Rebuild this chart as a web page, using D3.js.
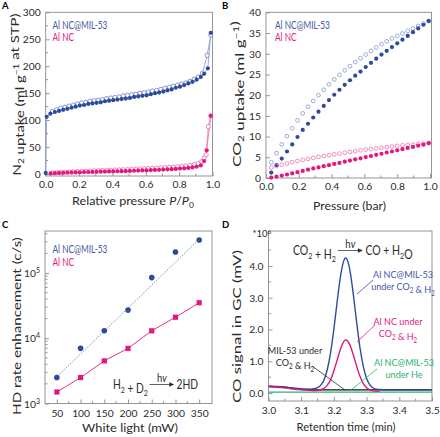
<!DOCTYPE html>
<html><head><meta charset="utf-8">
<script src="https://cdn.jsdelivr.net/npm/d3@7"></script>
<style>
html,body{margin:0;padding:0;background:#fff;}
svg{display:block;font-family:Lato,"Open Sans",sans-serif;}
</style></head>
<body>
<svg id="c" width="440" height="437"></svg>
<script>
// ---------- DATA ----------
// Panel A: N2 isotherms [P/P0, uptake]
const aMilAds = [[0,2],[0.006,106],[0.028,112],[0.055,115],[0.08,117],[0.105,119],[0.13,121],[0.155,123],[0.18,125],[0.205,127],[0.23,128],[0.255,130],[0.28,131],[0.305,132],[0.33,133],[0.355,135],[0.38,136],[0.405,137],[0.43,138],[0.455,139],[0.48,140],[0.505,141],[0.53,143],[0.555,144],[0.58,145],[0.605,146],[0.63,148],[0.655,150],[0.68,151],[0.705,153],[0.73,155],[0.755,157],[0.78,160],[0.805,162],[0.83,165],[0.855,168],[0.88,171],[0.905,175],[0.93,180],[0.95,186],[0.972,196],[0.99,262]];
const aMilDes = [[0.04,116],[0.065,119],[0.09,122],[0.115,124],[0.14,126],[0.165,128],[0.19,130],[0.215,132],[0.24,133],[0.265,135],[0.29,136],[0.315,137],[0.34,138],[0.365,140],[0.39,141],[0.415,142],[0.44,143],[0.465,145],[0.49,146],[0.515,147],[0.54,148],[0.565,150],[0.59,151],[0.615,152],[0.64,154],[0.665,155],[0.69,157],[0.715,159],[0.74,161],[0.765,163],[0.79,165],[0.815,167],[0.84,169],[0.865,172],[0.89,176],[0.915,180],[0.94,187],[0.968,220],[0.99,258]];
const aNcAds = [[0.03,1],[0.055,1.5],[0.08,2],[0.105,2.3],[0.13,2.6],[0.155,2.9],[0.18,3.1],[0.205,3.3],[0.23,3.5],[0.255,3.7],[0.28,3.9],[0.305,4.1],[0.33,4.3],[0.355,4.5],[0.38,4.7],[0.405,4.9],[0.43,5.1],[0.455,5.3],[0.48,5.5],[0.505,5.8],[0.53,6],[0.555,6.3],[0.58,6.6],[0.605,6.9],[0.63,7.2],[0.655,7.5],[0.68,7.8],[0.705,8.2],[0.73,8.6],[0.755,9],[0.78,9.5],[0.805,10],[0.83,10.6],[0.855,11.3],[0.88,12.2],[0.905,13.5],[0.93,16],[0.95,24],[0.965,44],[0.99,108]];
const aNcDes = [[0.04,2],[0.065,2.6],[0.09,3],[0.115,3.4],[0.14,3.8],[0.165,4.2],[0.19,4.6],[0.215,5],[0.24,5.3],[0.265,5.6],[0.29,5.9],[0.315,6.2],[0.34,6.5],[0.365,6.8],[0.39,7.1],[0.415,7.4],[0.44,7.7],[0.465,8],[0.49,8.3],[0.515,8.7],[0.54,9],[0.565,9.4],[0.59,9.8],[0.615,10.2],[0.64,10.6],[0.665,11],[0.69,11.5],[0.715,12],[0.74,12.5],[0.765,13],[0.79,13.6],[0.815,14.3],[0.84,15],[0.865,16],[0.89,17.5],[0.915,19.5],[0.935,23],[0.95,30],[0.962,36],[0.975,88],[0.99,108]];

// Panel B: CO2 isotherms (pressure, uptake)
const bPressure = [0.032,0.064,0.096,0.128,0.16,0.192,0.224,0.256,0.288,0.32,0.352,0.384,0.416,0.448,0.48,0.512,0.544,0.576,0.608,0.64,0.672,0.704,0.736,0.768,0.8,0.832,0.864,0.896,0.928,0.96,0.992];
const bMilAds = [1.3,3.1,4.7,6.4,8.1,9.9,11.6,13.1,14.6,16.0,17.4,18.8,20.1,21.3,22.5,23.6,24.7,25.7,26.8,27.8,28.8,29.8,30.7,31.6,32.5,33.4,34.3,35.2,36.1,37.0,37.9];
const bMilDes = [3.8,6.0,8.1,10.1,12.0,13.9,15.6,17.2,18.6,20.0,21.3,22.6,23.8,24.9,26.0,27.0,28.0,28.9,29.8,30.7,31.5,32.3,33.0,33.7,34.3,34.9,35.5,36.1,36.7,37.3,37.9];
const bNcAds = [0.1,0.35,0.6,0.85,1.1,1.4,1.7,2.0,2.3,2.55,2.85,3.1,3.4,3.65,3.95,4.2,4.5,4.75,5.05,5.3,5.6,5.85,6.15,6.4,6.7,6.95,7.25,7.5,7.8,8.05,8.4];
const bNcDes = [2.5,2.9,3.2,3.5,3.8,4.1,4.35,4.6,4.85,5.1,5.3,5.5,5.7,5.9,6.1,6.3,6.5,6.7,6.85,7.0,7.15,7.3,7.45,7.6,7.75,7.9,8.0,8.1,8.25,8.35,8.45];

// Panel C: HD rate enhancement vs light power
const cPower = [50,100,150,200,250,300,350];
const cMil = [2500,7000,13000,27000,85000,210000,320000];
const cNc = [1500,2500,4500,7000,13000,21000,35000];
const cMilFit = [[50,2550],[350,330000]];

// Panel D: GC traces [time, signal*1e6]
const dMil = [[3.00,0.22],[3.02,0.21],[3.04,0.2],[3.06,0.18],[3.08,0.15],[3.10,0.13],[3.12,0.12],[3.14,0.14],[3.15,0.17],[3.16,0.25],[3.17,0.42],[3.18,0.75],[3.19,1.28],[3.20,2.02],[3.21,2.88],[3.22,3.66],[3.23,4.16],[3.236,4.25],[3.24,4.21],[3.25,3.80],[3.26,3.05],[3.27,2.19],[3.28,1.41],[3.29,0.83],[3.30,0.46],[3.31,0.26],[3.32,0.16],[3.33,0.12],[3.34,0.11],[3.36,0.1],[3.40,0.1],[3.45,0.1],[3.50,0.1]];
const dNc = [[3.00,0.2],[3.02,0.19],[3.04,0.17],[3.06,0.15],[3.08,0.12],[3.10,0.1],[3.12,0.09],[3.14,0.08],[3.15,0.08],[3.16,0.11],[3.17,0.15],[3.18,0.25],[3.19,0.42],[3.20,0.70],[3.21,1.04],[3.22,1.38],[3.23,1.62],[3.237,1.67],[3.24,1.66],[3.25,1.49],[3.26,1.18],[3.27,0.83],[3.28,0.52],[3.29,0.30],[3.30,0.17],[3.31,0.10],[3.32,0.07],[3.33,0.06],[3.34,0.06]];
const dMil53 = [[3.00,0.21],[3.02,0.2],[3.04,0.19],[3.06,0.17],[3.08,0.14],[3.10,0.12],[3.12,0.11],[3.15,0.1],[3.20,0.1],[3.30,0.1],[3.40,0.1],[3.50,0.1]];
const dHe = [[3.00,0.03],[3.10,0.03],[3.20,0.03],[3.30,0.03],[3.40,0.03],[3.50,0.03]];

// ---------- STYLE ----------
const BLUE = "#2d4a9c", BLUE_L = "#8797cc", PINK = "#e2187e", PINK_L = "#ec6aa8";
const GREEN = "#27b36f", AX = "#8a8a8a", TXT = "#2a2a2a";
const BLUE_T = "#4358a6", PINK_T = "#e3197f";
const TITLE = 12;

const svg = d3.select("#c");

function rich(sel, parts, size) {
  parts.forEach(p => {
    const [t, k] = p;
    const ts = sel.append("tspan").text(t);
    if (k === "sub") ts.attr("font-size", size * 0.68).attr("dy", size * 0.28);
    else if (k === "sup") ts.attr("font-size", size * 0.68).attr("dy", -size * 0.4);
    else if (k === "i") ts.attr("font-style", "italic");
    if (k === "sub") sel.append("tspan").attr("dy", -size * 0.28).text("");
    if (k === "sup") sel.append("tspan").attr("dy", size * 0.4).text("");
  });
  return sel;
}

// text stretched/condensed along its length to match the reference extent
function label(x, y, rot, anchor, parts, size, target, color, sxFixed) {
  const t = svg.append("text").attr("font-size", size).attr("fill", color || TXT).attr("text-anchor", anchor);
  rich(t, parts, size);
  let sx = sxFixed || 1;
  if (target) { const w = t.node().getComputedTextLength(); if (w > 0) sx = target / w; }
  t.attr("transform", `translate(${x},${y})` + (rot ? ` rotate(${rot})` : "") + ` scale(${sx},1)`);
  t.sx = sx;
  return t;
}

function frame(x0, y0, x1, y1) {
  svg.append("rect").attr("x", x0).attr("y", y0).attr("width", x1 - x0).attr("height", y1 - y0)
    .attr("fill", "none").attr("stroke", AX).attr("stroke-width", 0.9);
}

function styleAxis(g) {
  g.select(".domain").remove();
  g.selectAll(".tick line").attr("stroke", AX).attr("stroke-width", 0.9);
  g.selectAll(".tick text").attr("fill", TXT).attr("font-size", 10.3).attr("font-family", "Lato,'Open Sans',sans-serif");
}

function minorTicks(scale, vals, len, horiz, pos) {
  const g = svg.append("g");
  vals.forEach(v => {
    if (horiz) g.append("line").attr("x1", scale(v)).attr("x2", scale(v)).attr("y1", pos).attr("y2", pos - len).attr("stroke", AX).attr("stroke-width", 0.9);
    else g.append("line").attr("y1", scale(v)).attr("y2", scale(v)).attr("x1", pos).attr("x2", pos + len).attr("stroke", AX).attr("stroke-width", 0.9);
  });
}

function panelLetter(t, x, y) {
  svg.append("text").attr("x", x).attr("y", y).attr("font-size", 9.5).attr("font-weight", "bold").attr("fill", "#000").text(t);
}

function legend(x, y) {
  const t = label(x, y, 0, "start", [["Al NC@MIL-53"]], 10.5, 55, BLUE_T);
  label(x, y + 12.5, 0, "start", [["Al NC"]], 10.5, null, PINK_T, t.sx);
}

// reaction: left parts, arrow with hv, right parts (drawn in a condensed group)
function reaction(x0, yb, size, sx, left, right, arrowLen) {
  const g = svg.append("g").attr("transform", `translate(${x0},${yb}) scale(${sx},1)`);
  const t1 = g.append("text").attr("x", 0).attr("y", 0).attr("font-size", size).attr("fill", TXT);
  rich(t1, left, size);
  const w1 = t1.node().getComputedTextLength();
  const ax0 = w1 + 2, ax1 = ax0 + arrowLen, ay = -size * 0.36;
  g.append("line").attr("x1", ax0).attr("x2", ax1 - 3).attr("y1", ay).attr("y2", ay).attr("stroke", TXT).attr("stroke-width", 0.8);
  g.append("path").attr("d", `M${ax1 - 6},${ay - 2.3} L${ax1},${ay} L${ax1 - 6},${ay + 2.3} Z`).attr("fill", TXT);
  const hv = g.append("text").attr("x", (ax0 + ax1) / 2).attr("y", ay - 3).attr("text-anchor", "middle").attr("font-size", size * 0.92).attr("fill", TXT);
  hv.append("tspan").text("h");
  hv.append("tspan").attr("font-style", "italic").text("v");
  const t2 = g.append("text").attr("x", ax1 + 3).attr("y", 0).attr("font-size", size).attr("fill", TXT);
  rich(t2, right, size);
}

// ---------- PANEL A ----------
{
  const L = 45.7, R = 212.5, T = 12.3, B = 176;
  const x = d3.scaleLinear([0, 1], [L, R]);
  const y = d3.scaleLinear([-3.7, 300], [B, T]);
  frame(L, T, R, B);
  const gx = svg.append("g").attr("transform", `translate(0,${B})`)
    .call(d3.axisBottom(x).tickValues([0, 0.2, 0.4, 0.6, 0.8, 1.0]).tickFormat(d3.format(".1f")).tickSizeInner(-4).tickSizeOuter(0).tickPadding(5));
  styleAxis(gx);
  const gy = svg.append("g").attr("transform", `translate(${L},0)`)
    .call(d3.axisLeft(y).tickValues([0, 50, 100, 150, 200, 250, 300]).tickSizeInner(-4).tickSizeOuter(0).tickPadding(5));
  styleAxis(gy);
  minorTicks(x, [0.1, 0.3, 0.5, 0.7, 0.9], 2.5, true, B);
  minorTicks(y, [25, 75, 125, 175, 225, 275], 2.5, false, L);

  const line = d3.line().x(d => x(d[0])).y(d => y(d[1]));
  [[aMilDes, BLUE_L], [aMilAds, BLUE_L], [aNcDes, PINK_L], [aNcAds, PINK_L]].forEach(([data, lc]) => {
    svg.append("path").datum(data).attr("d", line).attr("fill", "none").attr("stroke", lc).attr("stroke-width", 0.8);
  });
  const mk = (data, col, filled) => svg.append("g").selectAll("circle").data(data).join("circle")
    .attr("cx", d => x(d[0])).attr("cy", d => y(d[1])).attr("r", 2.1)
    .attr("fill", filled ? col : "#fff").attr("stroke", col).attr("stroke-width", filled ? 0 : 0.8);
  mk(aMilDes, "#6a7ebf", false);
  mk(aMilAds, BLUE, true);
  mk(aNcDes, PINK_L, false);
  mk(aNcAds, PINK, true);

  legend(52.5, 28.5);
  panelLetter("A", 2, 9);
  label(20.5, 94.5, -90, "middle", [["N"], ["2", "sub"], [" uptake (ml g"], ["−1", "sup"], [" at STP)"]], TITLE, 162);
  label(133, 205, 0, "middle", [["Relative pressure "], ["P", "i"], ["/"], ["P", "i"], ["0", "sub"]], TITLE, 122);
}

// ---------- PANEL B ----------
{
  const L = 266, R = 431.5, T = 12.3, B = 178;
  const x = d3.scaleLinear([0, 1.009], [L, R]);
  const y = d3.scaleLinear([0, 40], [B, T]);
  frame(L, T, R, B);
  const gx = svg.append("g").attr("transform", `translate(0,${B})`)
    .call(d3.axisBottom(x).tickValues([0, 0.2, 0.4, 0.6, 0.8, 1.0]).tickFormat(d3.format(".1f")).tickSizeInner(-4).tickSizeOuter(0).tickPadding(5));
  styleAxis(gx);
  const gy = svg.append("g").attr("transform", `translate(${L},0)`)
    .call(d3.axisLeft(y).tickValues([0, 5, 10, 15, 20, 25, 30, 35, 40]).tickSizeInner(-4).tickSizeOuter(0).tickPadding(5));
  styleAxis(gy);
  minorTicks(x, [0.1, 0.3, 0.5, 0.7, 0.9], 2.5, true, B);

  const mk = (vals, col, filled) => svg.append("g").selectAll("circle").data(vals).join("circle")
    .attr("cx", (d, i) => x(bPressure[i])).attr("cy", d => y(d)).attr("r", filled ? 2.1 : 1.9)
    .attr("fill", filled ? col : "none").attr("stroke", col).attr("stroke-width", filled ? 0 : 0.75);
  mk(bMilDes, "#7f92cc", false);
  mk(bMilAds, BLUE, true);
  mk(bNcDes, PINK_L, false);
  mk(bNcAds, PINK, true);

  legend(275, 28.5);
  panelLetter("B", 222, 9);
  label(240.5, 94, -90, "middle", [["CO"], ["2", "sub"], [" uptake (ml g"], ["−1", "sup"], [")"]], TITLE, 146);
  label(349.5, 209.5, 0, "middle", [["Pressure (bar)"]], TITLE, 73);
}

// ---------- PANEL C ----------
{
  const L = 45, R = 212, T = 231, B = 403.5;
  const x = d3.scaleLinear([25, 377], [L, R]);
  const y = d3.scaleLog([1e3, 4.4e5], [B, T]);
  frame(L, T, R, B);
  const gx = svg.append("g").attr("transform", `translate(0,${B})`)
    .call(d3.axisBottom(x).tickValues(cPower).tickSizeInner(-4).tickSizeOuter(0).tickPadding(6));
  styleAxis(gx);
  minorTicks(x, [75, 125, 175, 225, 275, 325], 2.5, true, B);
  const gy = svg.append("g").attr("transform", `translate(${L},0)`)
    .call(d3.axisLeft(y).tickValues([1e3, 1e4, 1e5]).tickFormat(() => "").tickSizeInner(-4).tickSizeOuter(0));
  styleAxis(gy);
  const minors = [];
  [1e3, 1e4, 1e5].forEach(dec => { for (let k = 2; k <= 9; k++) if (dec * k <= 4.4e5) minors.push(dec * k); });
  minorTicks(y, minors, 2.5, false, L);
  [[1e3, "3"], [1e4, "4"], [1e5, "5"]].forEach(([v, e]) => {
    const t = svg.append("text").attr("x", L - 5).attr("y", y(v) + 4).attr("text-anchor", "end").attr("font-size", 10.3).attr("fill", TXT);
    t.append("tspan").text("10");
    t.append("tspan").attr("font-size", 7).attr("dy", -4).text(e);
  });

  svg.append("path").datum(cMilFit).attr("d", d3.line().x(d => x(d[0])).y(d => y(d[1])))
    .attr("fill", "none").attr("stroke", "#5c6fb5").attr("stroke-width", 0.9).attr("stroke-dasharray", "1.2,1.4");
  svg.append("path").datum(cPower.map((p, i) => [p, cNc[i]])).attr("d", d3.line().x(d => x(d[0])).y(d => y(d[1])))
    .attr("fill", "none").attr("stroke", PINK).attr("stroke-width", 0.9);
  svg.append("g").selectAll("circle").data(cMil).join("circle")
    .attr("cx", (d, i) => x(cPower[i])).attr("cy", d => y(d)).attr("r", 2.8).attr("fill", BLUE);
  svg.append("g").selectAll("rect").data(cNc).join("rect")
    .attr("x", (d, i) => x(cPower[i]) - 2.6).attr("y", d => y(d) - 2.6).attr("width", 5.2).attr("height", 5.2).attr("fill", PINK);

  legend(52.5, 253);
  panelLetter("C", 2, 228);
  reaction(113, 389, 12.5, 0.82, [["H"], ["2", "sub"], [" + D"], ["2", "sub"]], [["2HD"]], 30);

  label(20.5, 326, -90, "middle", [["HD rate enhancement (c/s)"]], TITLE, 178);
  label(130, 432, 0, "middle", [["White light (mW)"]], TITLE, 96);
}

// ---------- PANEL D ----------
{
  const L = 268.5, R = 432, T = 231, B = 401;
  const x = d3.scaleLinear([3.0, 3.5], [L, R]);
  const y = d3.scaleLinear([-0.25, 5.1], [B, T]);
  frame(L, T, R, B);
  const gx = svg.append("g").attr("transform", `translate(0,${B})`)
    .call(d3.axisBottom(x).tickValues([3.0, 3.1, 3.2, 3.3, 3.4, 3.5]).tickFormat(d3.format(".1f")).tickSizeInner(-4).tickSizeOuter(0).tickPadding(6));
  styleAxis(gx);
  const gy = svg.append("g").attr("transform", `translate(${L},0)`)
    .call(d3.axisLeft(y).tickValues([0, 1, 2, 3, 4]).tickSizeInner(-4).tickSizeOuter(0).tickPadding(5));
  styleAxis(gy);
  minorTicks(y, [0.5, 1.5, 2.5, 3.5, 4.5], 2.5, false, L);
  minorTicks(x, [3.05, 3.15, 3.25, 3.35, 3.45], 2.5, true, B);

  const line = d3.line().x(d => x(d[0])).y(d => y(d[1])).curve(d3.curveMonotoneX);
  svg.append("clipPath").attr("id", "clipD").append("rect").attr("x", L).attr("y", T).attr("width", R - L).attr("height", B - T);
  const g = svg.append("g").attr("clip-path", "url(#clipD)");
  g.append("path").datum(dHe).attr("d", line).attr("fill", "none").attr("stroke", GREEN).attr("stroke-width", 1.4);
  g.append("path").datum(dMil53).attr("d", line).attr("fill", "none").attr("stroke", "#111").attr("stroke-width", 1.4);
  g.append("path").datum(dMil).attr("d", line).attr("fill", "none").attr("stroke", "#2e4aa0").attr("stroke-width", 1.4);
  g.append("path").datum(dNc).attr("d", line).attr("fill", "none").attr("stroke", "#e0167c").attr("stroke-width", 1.4);

  // *10^6
  const m = svg.append("text").attr("x", 252.5).attr("y", 237).attr("font-size", 9.5).attr("fill", TXT);
  m.append("tspan").text("*10");
  m.append("tspan").attr("font-size", 6.5).attr("dy", -3.5).text("6");

  reaction(293, 255, 12.5, 0.84, [["CO"], ["2", "sub"], [" + H"], ["2", "sub"]], [["CO + H"], ["2", "sub"], ["O"]], 30);

  // annotations
  const ann = (lines, cx, y0, col) => {
    lines.forEach((parts, i) => label(cx, y0 + i * 12, 0, "middle", parts, 10.3, null, col, 0.88));
  };
  ann([[["Al NC@MIL-53"]], [["under CO"], ["2", "sub"], [" & H"], ["2", "sub"]]], 403, 278, BLUE_T);
  ann([[["Al NC under"]], [["CO"], ["2", "sub"], [" & H"], ["2", "sub"]]], 398, 325, PINK_T);
  ann([[["MIL-53 under"]], [["CO"], ["2", "sub"], [" & H"], ["2", "sub"]]], 295, 354, TXT);
  ann([[["Al NC@MIL-53"]], [["under He"]]], 404, 366, GREEN);
  const lead = (x1, y1, x2, y2, c) => svg.append("line").attr("x1", x1).attr("y1", y1).attr("x2", x2).attr("y2", y2).attr("stroke", c).attr("stroke-width", 0.8);
  lead(373, 280, 357, 294, BLUE);
  lead(375, 325, 357, 342, PINK);
  lead(312, 366, 345, 390, TXT);
  lead(377, 369, 351, 390, GREEN);

  panelLetter("D", 222, 228);
  label(240.5, 326.5, -90, "middle", [["CO signal in GC (mV)"]], TITLE, 153);
  label(346, 431, 0, "middle", [["Retention time (min)"]], TITLE, 99);
}
</script>
</body></html>
